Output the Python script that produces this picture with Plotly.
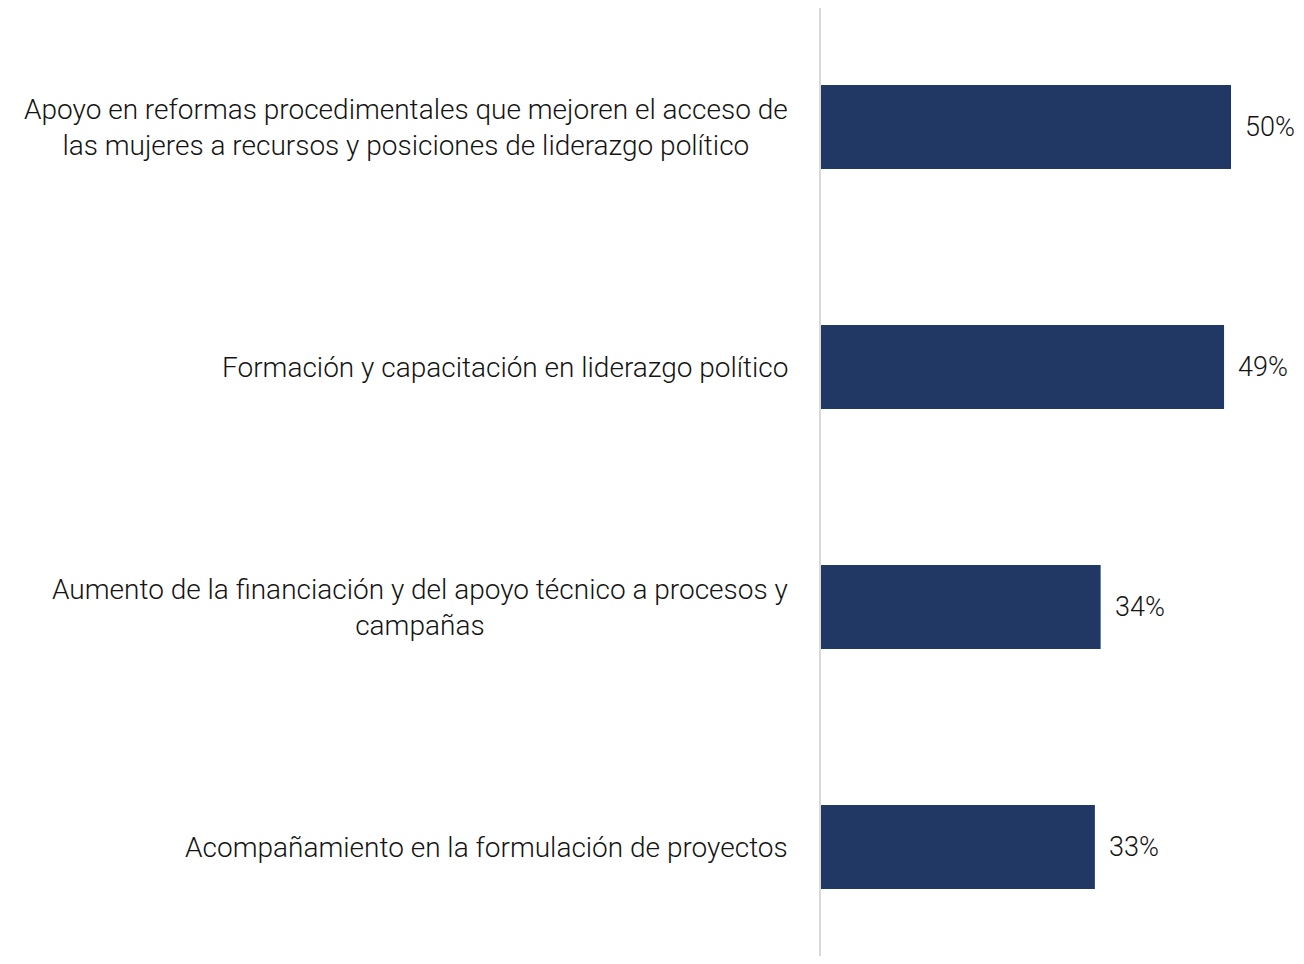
import plotly.graph_objects as go

categories = [
    "Apoyo en reformas procedimentales que mejoren el acceso de<br>las mujeres a recursos y posiciones de liderazgo político",
    "Formación y capacitación en liderazgo político",
    "Aumento de la financiación y del apoyo técnico a procesos y<br>campañas",
    "Acompañamiento en la formulación de proyectos",
]
values = [50.0, 49.15, 34.1, 33.4]
value_labels = ["50%", "49%", "34%", "33%"]

FONT = "Roboto"
TEXT_COLOR = "#141414"
BAR_COLOR = "#213864"

fig = go.Figure()
fig.add_trace(go.Bar(
    x=values,
    y=list(range(len(categories))),
    orientation="h",
    marker=dict(color=BAR_COLOR, line=dict(width=0)),
    width=0.35,
    hoverinfo="skip",
))

annotations = []
for i, (cat, v, lab) in enumerate(zip(categories, values, value_labels)):
    annotations.append(dict(
        x=0, xref="paper", y=i, yref="y",
        text=cat, showarrow=False, xanchor="right", yanchor="middle",
        align="center", xshift=-31,
        font=dict(family=FONT, size=28, color=TEXT_COLOR, weight=300),
    ))
    annotations.append(dict(
        x=v, xref="x", y=i, yref="y",
        text=lab, showarrow=False, xanchor="left", yanchor="middle",
        xshift=12,
        font=dict(family=FONT, size=27, color=TEXT_COLOR, weight=300),
    ))

fig.update_layout(
    width=1296, height=948,
    margin=dict(l=813, r=0, t=0, b=0),
    paper_bgcolor="white", plot_bgcolor="white",
    showlegend=False,
    xaxis=dict(range=[0, 58.9], showgrid=False, zeroline=False,
               showticklabels=False, showline=False, fixedrange=True),
    yaxis=dict(range=[3.454, -0.496], showgrid=False, zeroline=False,
               showticklabels=False, showline=True, linecolor="#d9d9d9",
               linewidth=2, ticks="", fixedrange=True),
    annotations=annotations,
)

fig.write_html("out.html")
